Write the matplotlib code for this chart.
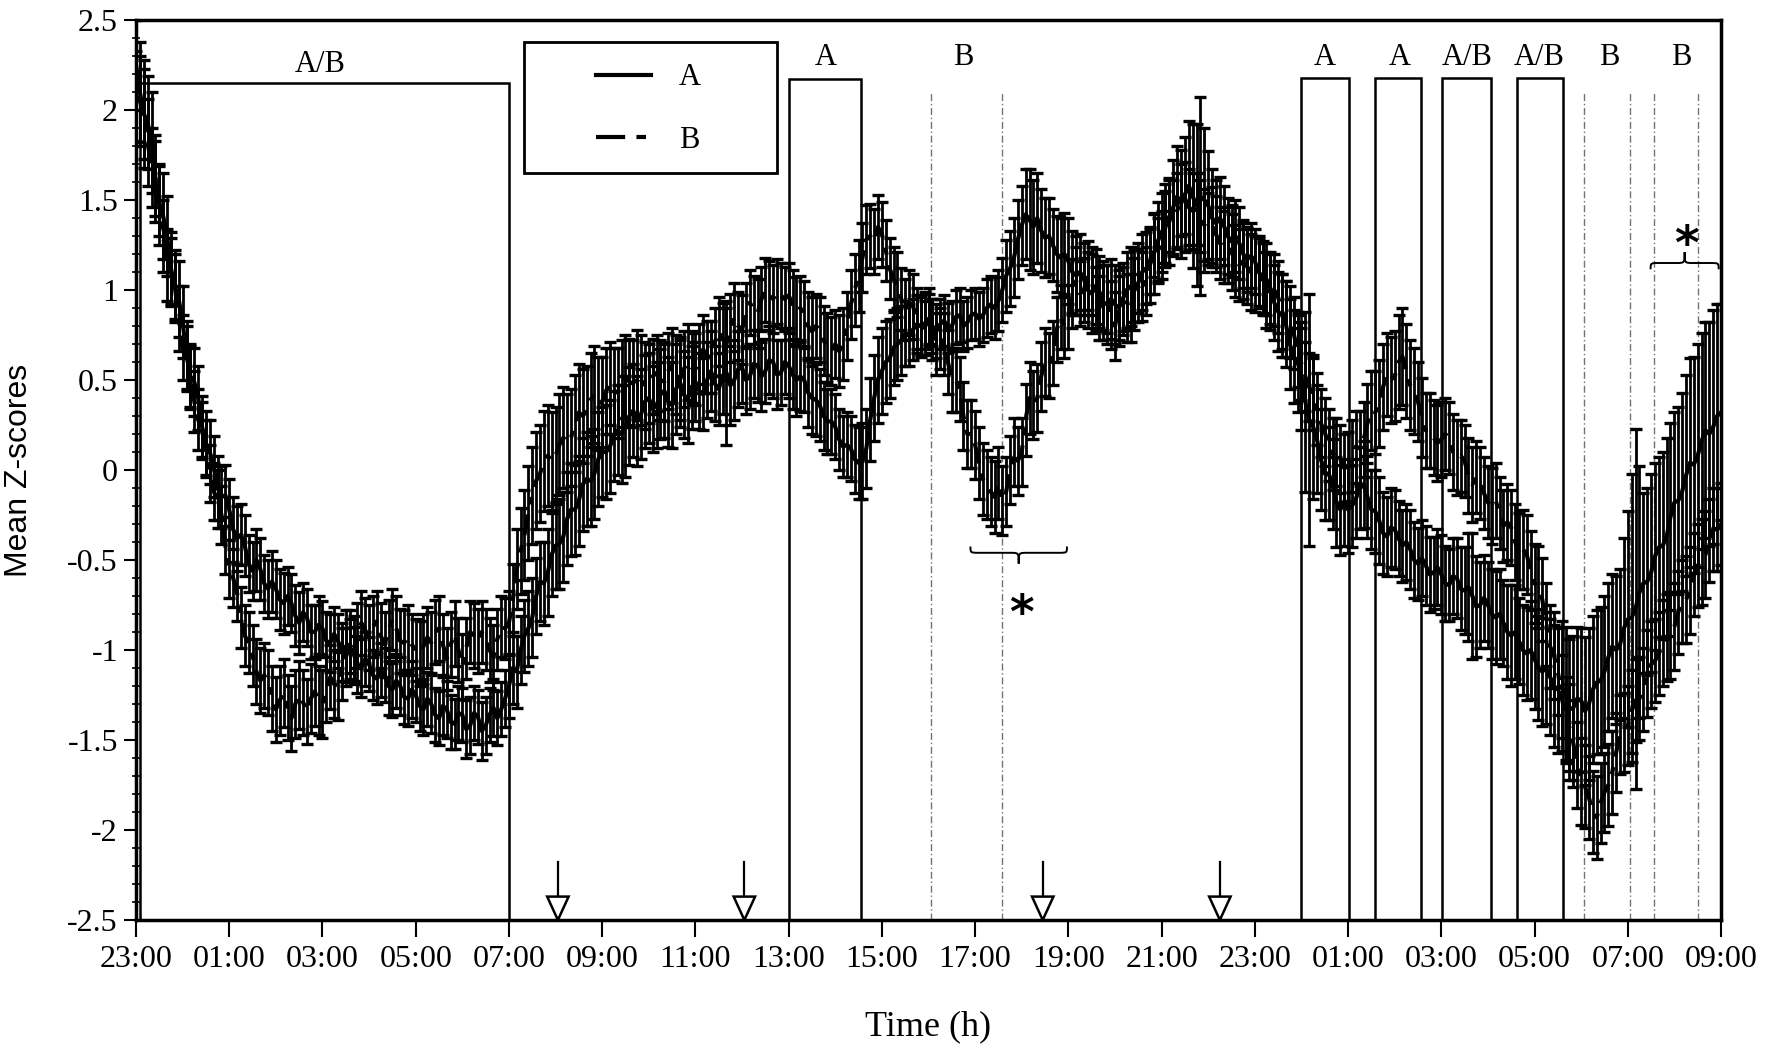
import numpy as np
import matplotlib
matplotlib.use("Agg")
import matplotlib.pyplot as plt
from matplotlib.patches import Rectangle, Polygon, PathPatch
from matplotlib.path import Path
from matplotlib.lines import Line2D
from matplotlib.ticker import FixedLocator, FixedFormatter, MultipleLocator

plt.rcParams['font.family'] = ['Liberation Serif', 'DejaVu Serif']

# ---------------- data (5-min samples, hours since 23:00; one row = 1 hour) ----------------
A_mean = [
    2.25, 2.1, 1.98, 1.93, 1.82, 1.62, 1.47, 1.41, 1.3, 1.12, 1.02, 0.95,
    0.82, 0.64, 0.52, 0.49, 0.4, 0.24, 0.15, 0.1, 0.02, -0.1, -0.15, -0.14,
    -0.22, -0.33, -0.38, -0.36, -0.42, -0.52, -0.56, -0.5, -0.55, -0.63, -0.66, -0.62,
    -0.66, -0.72, -0.74, -0.7, -0.74, -0.81, -0.85, -0.79, -0.82, -0.9, -0.9, -0.86,
    -0.88, -0.95, -0.96, -0.91, -0.95, -1.01, -1.04, -0.98, -1.02, -1.08, -1.1, -1.05,
    -1.08, -1.14, -1.16, -1.11, -1.14, -1.2, -1.22, -1.17, -1.2, -1.26, -1.27, -1.22,
    -1.25, -1.31, -1.33, -1.27, -1.3, -1.36, -1.38, -1.31, -1.33, -1.4, -1.41, -1.35,
    -1.36, -1.44, -1.42, -1.35, -1.37, -1.45, -1.42, -1.36, -1.32, -1.38, -1.33, -1.27,
    -1.2, -1.1, -1.12, -1.0, -0.92, -0.88, -0.82, -0.7, -0.62, -0.63, -0.57, -0.47,
    -0.42, -0.41, -0.37, -0.27, -0.22, -0.22, -0.17, -0.08, -0.05, -0.06, -0.02, 0.06,
    0.1, 0.1, 0.13, 0.19, 0.22, 0.2, 0.24, 0.3, 0.33, 0.27, 0.31, 0.38,
    0.4, 0.34, 0.36, 0.42, 0.44, 0.38, 0.36, 0.45, 0.49, 0.42, 0.39, 0.46,
    0.49, 0.44, 0.42, 0.5, 0.55, 0.48, 0.45, 0.52, 0.54, 0.47, 0.5, 0.56,
    0.57, 0.5, 0.52, 0.59, 0.58, 0.52, 0.55, 0.61, 0.6, 0.53, 0.54, 0.6,
    0.58, 0.53, 0.5, 0.52, 0.5, 0.43, 0.4, 0.39, 0.36, 0.3, 0.27, 0.27,
    0.24, 0.17, 0.13, 0.14, 0.12, 0.06, 0.04, 0.05, 0.12, 0.28, 0.4, 0.5,
    0.55, 0.6, 0.62, 0.68, 0.7, 0.72, 0.76, 0.75, 0.78, 0.81, 0.8, 0.79,
    0.84, 0.8, 0.77, 0.81, 0.83, 0.79, 0.8, 0.85, 0.86, 0.8, 0.82, 0.86,
    0.87, 0.84, 0.86, 0.9, 0.92, 0.9, 0.94, 1.0, 1.08, 1.12, 1.18, 1.28,
    1.36, 1.42, 1.39, 1.35, 1.4, 1.33, 1.29, 1.3, 1.25, 1.2, 1.18, 1.2,
    1.16, 1.1, 1.08, 1.1, 1.06, 1.0, 0.98, 1.02, 0.99, 0.93, 0.92, 0.95,
    0.92, 0.9, 0.95, 1.0, 1.02, 1.0, 1.04, 1.1, 1.12, 1.14, 1.2, 1.27,
    1.32, 1.36, 1.38, 1.46, 1.52, 1.48, 1.53, 1.58, 1.52, 1.47, 1.52, 1.5,
    1.47, 1.4, 1.37, 1.4, 1.36, 1.3, 1.27, 1.3, 1.26, 1.2, 1.17, 1.19,
    1.16, 1.1, 1.07, 1.06, 1.01, 0.93, 0.88, 0.86, 0.81, 0.7, 0.63, 0.6,
    0.52, 0.38, 0.28, 0.24, 0.17, 0.06, -0.02, -0.02, -0.08, -0.18, -0.22, -0.18,
    -0.22, -0.2, -0.16, -0.1, -0.08, -0.15, -0.22, -0.23, -0.28, -0.35, -0.37, -0.32,
    -0.33, -0.38, -0.42, -0.4, -0.44, -0.5, -0.52, -0.49, -0.53, -0.58, -0.57, -0.54,
    -0.58, -0.63, -0.64, -0.59, -0.6, -0.66, -0.67, -0.65, -0.7, -0.76, -0.75, -0.71,
    -0.75, -0.8, -0.82, -0.8, -0.85, -0.9, -0.92, -0.9, -0.95, -1.0, -1.02, -1.0,
    -1.05, -1.1, -1.12, -1.1, -1.15, -1.2, -1.22, -1.2, -1.25, -1.33, -1.32, -1.27,
    -1.28, -1.34, -1.3, -1.22, -1.18, -1.17, -1.12, -1.04, -0.98, -1.0, -0.97, -0.88,
    -0.83, -0.82, -0.77, -0.68, -0.63, -0.62, -0.57, -0.48, -0.43, -0.42, -0.37, -0.26,
    -0.18, -0.17, -0.12, -0.03, 0.04, 0.03, 0.08, 0.16, 0.22, 0.2, 0.24, 0.3,
    0.32,
]
A_err = [
    0.25, 0.28, 0.3, 0.26, 0.28, 0.24, 0.22, 0.24, 0.22, 0.2, 0.2, 0.21,
    0.2, 0.19, 0.18, 0.19, 0.18, 0.17, 0.18, 0.18, 0.17, 0.18, 0.17, 0.17,
    0.17, 0.18, 0.18, 0.17, 0.17, 0.16, 0.16, 0.17, 0.17, 0.16, 0.16, 0.17,
    0.16, 0.17, 0.17, 0.16, 0.16, 0.17, 0.17, 0.16, 0.16, 0.15, 0.15, 0.16,
    0.15, 0.16, 0.16, 0.15, 0.15, 0.16, 0.16, 0.15, 0.15, 0.16, 0.16, 0.15,
    0.15, 0.14, 0.14, 0.15, 0.15, 0.16, 0.15, 0.15, 0.16, 0.15, 0.15, 0.16,
    0.15, 0.14, 0.14, 0.15, 0.16, 0.15, 0.15, 0.16, 0.16, 0.15, 0.14, 0.15,
    0.15, 0.16, 0.16, 0.15, 0.15, 0.16, 0.16, 0.15, 0.16, 0.15, 0.15, 0.16,
    0.18, 0.2, 0.2, 0.19, 0.2, 0.21, 0.22, 0.21, 0.22, 0.23, 0.24, 0.23,
    0.24, 0.25, 0.25, 0.26, 0.26, 0.25, 0.25, 0.26, 0.26, 0.25, 0.25, 0.26,
    0.25, 0.26, 0.26, 0.25, 0.25, 0.27, 0.28, 0.27, 0.26, 0.25, 0.25, 0.26,
    0.25, 0.24, 0.24, 0.25, 0.26, 0.25, 0.24, 0.25, 0.25, 0.24, 0.24, 0.23,
    0.22, 0.21, 0.2, 0.21, 0.22, 0.21, 0.2, 0.21, 0.4, 0.22, 0.22, 0.21,
    0.2, 0.19, 0.18, 0.19, 0.2, 0.19, 0.18, 0.19, 0.2, 0.19, 0.18, 0.18,
    0.18, 0.19, 0.2, 0.19, 0.18, 0.19, 0.2, 0.2, 0.2, 0.19, 0.18, 0.18,
    0.18, 0.17, 0.17, 0.18, 0.18, 0.19, 0.2, 0.21, 0.22, 0.23, 0.24, 0.24,
    0.24, 0.23, 0.22, 0.21, 0.2, 0.19, 0.18, 0.17, 0.17, 0.16, 0.16, 0.15,
    0.14, 0.15, 0.15, 0.14, 0.14, 0.14, 0.14, 0.15, 0.15, 0.14, 0.14, 0.14,
    0.14, 0.15, 0.15, 0.16, 0.16, 0.17, 0.17, 0.18, 0.2, 0.21, 0.22, 0.22,
    0.22, 0.25, 0.28, 0.26, 0.25, 0.23, 0.22, 0.21, 0.2, 0.21, 0.22, 0.23,
    0.24, 0.23, 0.22, 0.21, 0.2, 0.21, 0.22, 0.21, 0.2, 0.21, 0.22, 0.22,
    0.22, 0.21, 0.2, 0.21, 0.22, 0.22, 0.22, 0.21, 0.2, 0.21, 0.22, 0.22,
    0.22, 0.23, 0.24, 0.26, 0.28, 0.3, 0.32, 0.36, 0.4, 0.45, 0.55, 0.4,
    0.3, 0.27, 0.24, 0.23, 0.22, 0.21, 0.2, 0.2, 0.2, 0.19, 0.18, 0.18,
    0.18, 0.19, 0.2, 0.2, 0.2, 0.21, 0.22, 0.23, 0.24, 0.25, 0.26, 0.28,
    0.3, 0.5, 0.7, 0.4, 0.3, 0.28, 0.26, 0.26, 0.25, 0.25, 0.25, 0.24,
    0.24, 0.23, 0.22, 0.23, 0.24, 0.23, 0.22, 0.23, 0.24, 0.23, 0.22, 0.22,
    0.22, 0.21, 0.2, 0.21, 0.22, 0.21, 0.2, 0.21, 0.22, 0.21, 0.2, 0.21,
    0.22, 0.21, 0.2, 0.21, 0.22, 0.23, 0.24, 0.3, 0.35, 0.28, 0.24, 0.24,
    0.24, 0.25, 0.26, 0.25, 0.24, 0.26, 0.28, 0.26, 0.24, 0.25, 0.26, 0.27,
    0.28, 0.29, 0.3, 0.31, 0.32, 0.34, 0.35, 0.36, 0.38, 0.39, 0.4, 0.4,
    0.4, 0.41, 0.42, 0.41, 0.4, 0.41, 0.42, 0.41, 0.4, 0.41, 0.42, 0.5,
    0.6, 0.8, 1.0, 0.7, 0.5, 0.52, 0.55, 0.52, 0.5, 0.52, 0.55, 0.52,
    0.5, 0.52, 0.55, 0.56, 0.58, 0.6, 0.62, 0.6, 0.6, 0.62, 0.65, 0.62,
    0.6,
]
B_mean = [
    2.08, 2.05, 1.98, 1.82, 1.68, 1.62, 1.5, 1.3, 1.14, 1.1, 1.02, 0.84,
    0.68, 0.62, 0.52, 0.38, 0.28, 0.22, 0.12, -0.02, -0.12, -0.16, -0.25, -0.42,
    -0.55, -0.6, -0.68, -0.82, -0.92, -0.96, -1.03, -1.12, -1.17, -1.14, -1.18, -1.27,
    -1.33, -1.28, -1.24, -1.32, -1.38, -1.3, -1.25, -1.29, -1.34, -1.27, -1.23, -1.28,
    -1.3, -1.22, -1.15, -1.19, -1.2, -1.08, -0.98, -0.97, -1.0, -0.92, -0.85, -0.89,
    -0.93, -0.87, -0.84, -0.92, -0.97, -0.89, -0.83, -0.88, -0.95, -0.96, -0.93, -0.97,
    -1.0, -1.02, -0.98, -0.93, -0.96, -0.9, -0.88, -0.97, -1.05, -0.97, -0.91, -1.0,
    -1.09, -0.99, -0.9, -0.92, -0.95, -0.9, -0.94, -1.0, -1.04, -0.94, -0.87, -0.88,
    -0.85, -0.72, -0.55, -0.45, -0.36, -0.24, -0.14, -0.06, -0.02, 0.05, 0.08, 0.05,
    0.08, 0.14, 0.18, 0.15, 0.18, 0.26, 0.32, 0.3, 0.33, 0.39, 0.42, 0.37,
    0.38, 0.44, 0.48, 0.44, 0.43, 0.48, 0.52, 0.49, 0.48, 0.53, 0.5, 0.47,
    0.48, 0.52, 0.54, 0.5, 0.49, 0.55, 0.58, 0.53, 0.5, 0.56, 0.6, 0.57,
    0.56, 0.62, 0.67, 0.63, 0.63, 0.71, 0.77, 0.73, 0.7, 0.79, 0.85, 0.8,
    0.78, 0.86, 0.93, 0.89, 0.87, 0.95, 1.0, 0.97, 0.95, 0.99, 0.97, 0.95,
    0.97, 0.92, 0.88, 0.9, 0.87, 0.8, 0.77, 0.8, 0.78, 0.72, 0.68, 0.66,
    0.7, 0.66, 0.7, 0.8, 0.92, 1.0, 1.08, 1.18, 1.28, 1.3, 1.27, 1.35,
    1.31, 1.22, 1.12, 1.06, 1.03, 0.95, 0.89, 0.93, 0.91, 0.84, 0.8, 0.83,
    0.85, 0.78, 0.7, 0.73, 0.7, 0.6, 0.5, 0.5, 0.45, 0.3, 0.2, 0.2,
    0.14, 0.04, -0.05, -0.08, -0.12, -0.15, -0.07, -0.17, -0.12, 0.0, 0.1, 0.05,
    0.1, 0.28, 0.4, 0.36, 0.4, 0.52, 0.6, 0.58, 0.65, 0.78, 0.85, 0.8,
    0.85, 0.98, 1.05, 0.98, 1.0, 1.08, 1.05, 0.95, 0.9, 0.97, 0.95, 0.86,
    0.8, 0.9, 0.95, 0.9, 0.9, 1.0, 1.05, 1.02, 1.05, 1.16, 1.25, 1.22,
    1.25, 1.35, 1.41, 1.4, 1.44, 1.5, 1.51, 1.46, 1.44, 1.45, 1.41, 1.36,
    1.34, 1.36, 1.31, 1.26, 1.24, 1.25, 1.21, 1.16, 1.14, 1.16, 1.13, 1.1,
    1.09, 1.1, 1.06, 1.0, 0.99, 1.0, 0.96, 0.88, 0.84, 0.82, 0.76, 0.66,
    0.59, 0.52, 0.46, 0.42, 0.34, 0.26, 0.21, 0.14, 0.09, 0.1, 0.06, 0.01,
    0.02, 0.08, 0.13, 0.12, 0.17, 0.26, 0.33, 0.32, 0.37, 0.46, 0.53, 0.5,
    0.52, 0.6, 0.63, 0.55, 0.47, 0.44, 0.38, 0.29, 0.22, 0.22, 0.18, 0.15,
    0.17, 0.2, 0.18, 0.1, 0.07, 0.08, 0.05, -0.03, -0.08, -0.04, -0.07, -0.13,
    -0.18, -0.2, -0.17, -0.24, -0.31, -0.29, -0.32, -0.4, -0.45, -0.44, -0.47, -0.56,
    -0.63, -0.65, -0.72, -0.86, -0.98, -1.03, -1.12, -1.26, -1.38, -1.43, -1.52, -1.64,
    -1.73, -1.76, -1.82, -1.9, -1.93, -1.85, -1.79, -1.75, -1.68, -1.57, -1.47, -1.46,
    -1.42, -1.34, -1.28, -1.27, -1.22, -1.13, -1.08, -1.06, -1.02, -0.96, -0.93, -0.92,
    -0.87, -0.79, -0.73, -0.72, -0.67, -0.58, -0.53, -0.51, -0.47, -0.39, -0.33, -0.33,
    -0.3,
]
B_err = [
    0.25, 0.25, 0.25, 0.24, 0.22, 0.21, 0.2, 0.2, 0.2, 0.19, 0.18, 0.18,
    0.18, 0.18, 0.17, 0.17, 0.17, 0.16, 0.16, 0.16, 0.16, 0.16, 0.16, 0.16,
    0.16, 0.16, 0.16, 0.17, 0.17, 0.17, 0.17, 0.18, 0.18, 0.18, 0.18, 0.18,
    0.18, 0.19, 0.19, 0.18, 0.18, 0.19, 0.19, 0.18, 0.18, 0.19, 0.19, 0.19,
    0.19, 0.18, 0.18, 0.19, 0.19, 0.2, 0.2, 0.19, 0.19, 0.18, 0.18, 0.18,
    0.18, 0.17, 0.17, 0.18, 0.18, 0.17, 0.17, 0.18, 0.18, 0.18, 0.18, 0.17,
    0.17, 0.18, 0.18, 0.17, 0.17, 0.18, 0.18, 0.17, 0.17, 0.18, 0.18, 0.18,
    0.18, 0.17, 0.17, 0.18, 0.18, 0.17, 0.17, 0.18, 0.18, 0.17, 0.17, 0.17,
    0.18, 0.2, 0.22, 0.24, 0.25, 0.26, 0.27, 0.27, 0.27, 0.28, 0.28, 0.27,
    0.27, 0.28, 0.28, 0.27, 0.27, 0.27, 0.27, 0.26, 0.25, 0.26, 0.27, 0.26,
    0.25, 0.24, 0.23, 0.24, 0.25, 0.24, 0.23, 0.24, 0.24, 0.25, 0.25, 0.24,
    0.22, 0.21, 0.21, 0.22, 0.22, 0.21, 0.21, 0.22, 0.22, 0.21, 0.21, 0.2,
    0.2, 0.19, 0.19, 0.2, 0.2, 0.19, 0.19, 0.2, 0.2, 0.19, 0.19, 0.19,
    0.19, 0.18, 0.18, 0.19, 0.19, 0.18, 0.18, 0.19, 0.19, 0.18, 0.18, 0.18,
    0.18, 0.19, 0.19, 0.18, 0.18, 0.19, 0.19, 0.18, 0.18, 0.19, 0.19, 0.19,
    0.19, 0.2, 0.2, 0.19, 0.19, 0.2, 0.2, 0.19, 0.19, 0.18, 0.18, 0.18,
    0.18, 0.17, 0.17, 0.18, 0.18, 0.17, 0.17, 0.18, 0.18, 0.17, 0.17, 0.16,
    0.16, 0.17, 0.17, 0.17, 0.17, 0.18, 0.18, 0.18, 0.18, 0.19, 0.19, 0.19,
    0.19, 0.2, 0.2, 0.19, 0.19, 0.2, 0.2, 0.19, 0.19, 0.19, 0.19, 0.19,
    0.19, 0.2, 0.2, 0.19, 0.19, 0.19, 0.19, 0.18, 0.18, 0.18, 0.18, 0.18,
    0.18, 0.19, 0.19, 0.18, 0.18, 0.19, 0.19, 0.18, 0.18, 0.19, 0.19, 0.19,
    0.19, 0.18, 0.18, 0.19, 0.19, 0.18, 0.18, 0.19, 0.19, 0.18, 0.18, 0.18,
    0.19, 0.2, 0.2, 0.21, 0.21, 0.2, 0.2, 0.21, 0.21, 0.2, 0.2, 0.2,
    0.2, 0.21, 0.21, 0.2, 0.2, 0.21, 0.21, 0.2, 0.2, 0.21, 0.21, 0.21,
    0.21, 0.2, 0.2, 0.21, 0.21, 0.2, 0.2, 0.21, 0.21, 0.2, 0.2, 0.2,
    0.2, 0.19, 0.19, 0.2, 0.2, 0.19, 0.19, 0.2, 0.2, 0.19, 0.19, 0.19,
    0.19, 0.2, 0.2, 0.21, 0.21, 0.22, 0.22, 0.23, 0.24, 0.24, 0.23, 0.24,
    0.25, 0.26, 0.27, 0.26, 0.25, 0.24, 0.22, 0.22, 0.21, 0.21, 0.21, 0.21,
    0.21, 0.2, 0.2, 0.21, 0.21, 0.2, 0.2, 0.21, 0.21, 0.2, 0.2, 0.2,
    0.2, 0.21, 0.21, 0.2, 0.2, 0.21, 0.21, 0.21, 0.21, 0.22, 0.22, 0.22,
    0.22, 0.23, 0.23, 0.23, 0.23, 0.24, 0.24, 0.23, 0.23, 0.24, 0.24, 0.24,
    0.24, 0.23, 0.23, 0.23, 0.23, 0.22, 0.22, 0.23, 0.23, 0.22, 0.22, 0.22,
    0.22, 0.23, 0.23, 0.23, 0.23, 0.24, 0.24, 0.23, 0.23, 0.24, 0.24, 0.24,
    0.24, 0.23, 0.23, 0.24, 0.24, 0.23, 0.23, 0.24, 0.24, 0.23, 0.23, 0.23,
    0.23,
]
samples_per_hour = 12
t_hours = np.arange(len(A_mean)) / samples_per_hour

x_tick_pos = [0, 2, 4, 6, 8, 10, 12, 14, 16, 18, 20, 22, 24, 26, 28, 30, 32, 34]
x_tick_labels = ["23:00", "01:00", "03:00", "05:00", "07:00", "09:00", "11:00",
                 "13:00", "15:00", "17:00", "19:00", "21:00", "23:00", "01:00",
                 "03:00", "05:00", "07:00", "09:00"]
y_tick_pos = [-2.5, -2, -1.5, -1, -0.5, 0, 0.5, 1, 1.5, 2, 2.5]
y_tick_labels = ["-2.5", "-2", "-1.5", "-1", "-0.5", "0", "0.5", "1", "1.5", "2", "2.5"]

# condition boxes (start h, end h, top)
box_start = [0.08, 14.0, 25.0, 26.58, 28.02, 29.62]
box_end = [8.0, 15.55, 26.02, 27.57, 29.06, 30.6]
box_top = [2.15, 2.17, 2.18, 2.18, 2.18, 2.18]
# dash-dot marked periods
dash_start = [17.05, 31.06, 32.56]
dash_end = [18.58, 32.05, 33.5]
# condition labels
cond_labels = ["A/B", "A", "B", "A", "A", "A/B", "A/B", "B", "B"]
cond_x = [3.95, 14.8, 17.75, 25.5, 27.1, 28.55, 30.1, 31.6, 33.15]
cond_y = [2.25, 2.29, 2.29, 2.29, 2.29, 2.29, 2.29, 2.29, 2.29]
# arrows (hours)
arrow_x = [9.05, 13.05, 19.45, 23.25]
# significance braces and stars
brace_x0 = [17.9, 32.49]
brace_x1 = [19.97, 33.95]
brace_y = [-0.46, 1.15]
brace_dir = [-1, 1]
star_x = [19.0, 33.25]
star_y = [-0.81, 1.24]

# ---------------- figure ----------------
W, H = 1777, 1047
fig = plt.figure(figsize=(W / 100, H / 100), dpi=100)
ax = fig.add_axes([136 / W, 1 - 920 / H, (1721 - 136) / W, 900 / H])
ax.set_xlim(0, 34)
ax.set_ylim(-2.5, 2.5)

b_dash = (0, (5, 2.5, 1.8, 2.5))
ax.errorbar(t_hours, A_mean, yerr=A_err, color='k', lw=3.0, elinewidth=2.0,
            capsize=4.5, capthick=2.4, zorder=2)
ax.errorbar(t_hours, B_mean, yerr=B_err, color='k', lw=3.0, ls=b_dash,
            elinewidth=2.0, capsize=4.5, capthick=2.4, zorder=2)

for x0, x1, top in zip(box_start, box_end, box_top):
    ax.add_patch(Rectangle((x0, -2.5), x1 - x0, top + 2.5, fill=False,
                           ec='k', lw=1.8, zorder=3))
for x0, x1 in zip(dash_start, dash_end):
    for xv in (x0, x1):
        ax.plot([xv, xv], [-2.5, 2.1], color='0.45', lw=1.0,
                ls=(0, (5, 2, 1, 2)), zorder=1)
for s, x, y in zip(cond_labels, cond_x, cond_y):
    ax.text(x, y, s, ha='center', va='center', fontsize=22)

for xa in arrow_x:
    ax.plot([xa, xa], [-2.18, -2.37], color='k', lw=1.6, zorder=4)
    ax.add_patch(Polygon([[xa - 0.23, -2.37], [xa + 0.23, -2.37], [xa, -2.5]],
                         closed=True, fc='white', ec='k', lw=1.8, zorder=4))


def brace(x0, x1, y, d, w=0.18, e=0.035, tip=0.06):
    xm = (x0 + x1) / 2
    ye = y - d * e
    yt = y + d * tip
    verts = [(x0, ye), (x0, y), (x0, y), (x0 + w, y),
             (xm - w, y),
             (xm, y), (xm, y), (xm, yt),
             (xm, y), (xm, y), (xm + w, y),
             (x1 - w, y),
             (x1, y), (x1, y), (x1, ye)]
    codes = [Path.MOVETO, Path.CURVE4, Path.CURVE4, Path.CURVE4,
             Path.LINETO,
             Path.CURVE4, Path.CURVE4, Path.CURVE4,
             Path.CURVE4, Path.CURVE4, Path.CURVE4,
             Path.LINETO,
             Path.CURVE4, Path.CURVE4, Path.CURVE4]
    ax.add_patch(PathPatch(Path(verts, codes), fill=False, ec='k', lw=1.4, zorder=4))


for x0, x1, y, d in zip(brace_x0, brace_x1, brace_y, brace_dir):
    brace(x0, x1, y, d)
for x, y in zip(star_x, star_y):
    ax.text(x, y, '*', ha='center', va='center', fontsize=34, fontweight='bold',
            family='DejaVu Sans', zorder=5)

# legend
leg_handles = [Line2D([], [], color='k', lw=3),
               Line2D([], [], color='k', lw=3, ls=(0, (7, 2.7, 2.3, 2.7)))]
ax.legend(leg_handles, ['A', 'B'], loc='center', bbox_to_anchor=(0.3233, 0.901),
          frameon=False, fontsize=22, handlelength=1.8, handletextpad=0.9,
          labelspacing=1.1)
ax.add_patch(Rectangle((0.2447, 0.83), 0.4047 - 0.2447, 0.975 - 0.83,
                       transform=ax.transAxes, fill=False, ec='k', lw=2, zorder=5))

# axes styling
for sp in ax.spines.values():
    sp.set_linewidth(2.5)
ax.xaxis.set_major_locator(FixedLocator(x_tick_pos))
ax.xaxis.set_major_formatter(FixedFormatter(x_tick_labels))
ax.yaxis.set_major_locator(FixedLocator(y_tick_pos))
ax.yaxis.set_major_formatter(FixedFormatter(y_tick_labels))
ax.yaxis.set_minor_locator(MultipleLocator(0.1))
ax.tick_params(axis='x', which='major', direction='out', length=12, width=1.5,
               labelsize=23, pad=6)
ax.tick_params(axis='y', which='major', direction='out', length=9, width=1.5,
               labelsize=23, pad=4)
ax.tick_params(axis='y', which='minor', direction='inout', length=6, width=1.2)

ax.set_xlabel('Time (h)', fontsize=26, labelpad=26)
ax.set_ylabel('Mean Z-scores', fontsize=23, family=['Liberation Sans', 'DejaVu Sans'],
              labelpad=24)

fig.savefig('out.png', dpi=100)
